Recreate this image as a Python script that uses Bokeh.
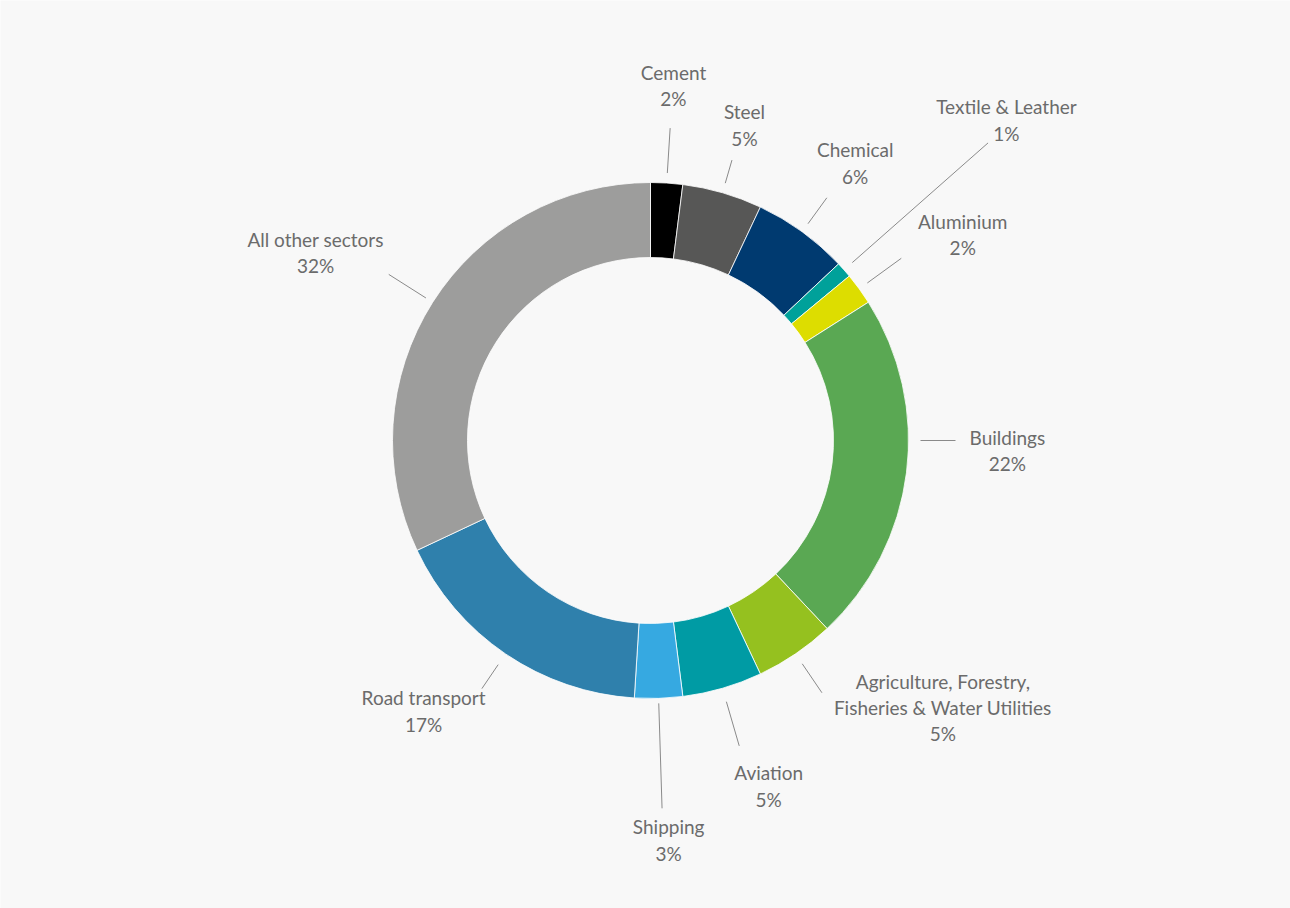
import math
from bokeh.plotting import figure
from bokeh.models import Range1d, ColumnDataSource
from bokeh.core.properties import value
from bokeh.embed import file_html
from bokeh.resources import INLINE

sectors = ["Cement", "Steel", "Chemical", "Textile & Leather", "Aluminium", "Buildings",
           "Agriculture, Forestry,\nFisheries & Water Utilities", "Aviation", "Shipping",
           "Road transport", "All other sectors"]
shares = [2, 5, 6, 1, 2, 22, 5, 5, 3, 17, 32]
colors = ["#000000", "#575756", "#003a70", "#00a19a", "#dddd00", "#5aa853",
          "#95c11f", "#009ba4", "#36a9e1", "#2f80ac", "#9d9d9c"]

# layout (pixels / degrees)
W, H = 1290, 908
cx, cy = 650, H - 440
r_in, r_out = 183, 258
lead_r0 = [268, 268, 268, 269, 268, 270, 270, 272, 263, 271, 266]
lead_r1 = [313, 292, 300, 450, 310, 305, 305, 318, 368, 300, 310]
lead_a_override = {5: 90.0}
text_r = [356, 329, 345, 479, 374, 357, 396, 365, 400, 353, 384]
text_a = [3.7, 16.6, 36.4, 48, 56.6, 91.6, 132.4, 161.1, 177.4, 220, 299.3]

total = sum(shares)
starts, ends, mids = [], [], []
acc = 0.0
for s in shares:
    a0 = acc / total * 360
    acc += s
    a1 = acc / total * 360
    starts.append(math.radians(90 - a0))
    ends.append(math.radians(90 - a1))
    mids.append((a0 + a1) / 2)

p = figure(width=W, height=H, output_backend="svg", toolbar_location=None,
           x_range=Range1d(0, W), y_range=Range1d(0, H), min_border=0)
p.axis.visible = False
p.grid.visible = False
p.outline_line_color = None
p.background_fill_color = "#f8f8f8"
p.border_fill_color = "#f8f8f8"

src = ColumnDataSource(dict(s=starts, e=ends, c=colors))
p.annular_wedge(x=cx, y=cy, inner_radius=r_in, outer_radius=r_out,
                start_angle="s", end_angle="e", direction="clock",
                fill_color="c", line_color="white", line_width=0.8, source=src)

def pt(r, a):
    t = math.radians(a)
    return cx + r * math.sin(t), cy + r * math.cos(t)

xs, ys, tx, ty, labels = [], [], [], [], []
for i, name in enumerate(sectors):
    la = lead_a_override.get(i, mids[i])
    x0, y0 = pt(lead_r0[i], la)
    x1, y1 = pt(lead_r1[i], la)
    xs.append([x0, x1]); ys.append([y0, y1])
    x2, y2 = pt(text_r[i], text_a[i])
    tx.append(x2); ty.append(y2)
    labels.append(f"{name}\n{shares[i]}%")

p.multi_line(xs, ys, line_color="#8a8a8a", line_width=1)
p.text(tx, ty, text=labels, text_align="center", text_baseline="middle",
       text_font=value("Lato"), text_font_size="19px", text_color="#6b6b6b",
       text_line_height=1.15)

open("out.html", "w").write(file_html(p, INLINE))
